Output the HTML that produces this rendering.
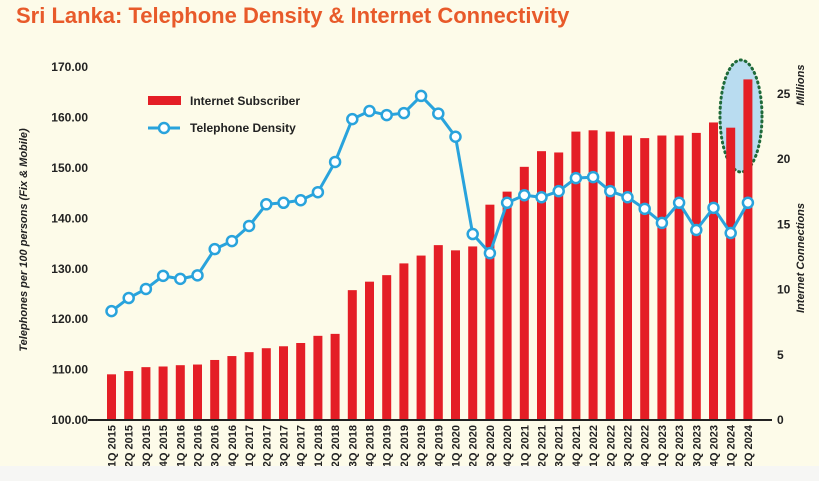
<!DOCTYPE html>
<html><head><meta charset="utf-8"><style>
html,body{margin:0;padding:0;background:#fdfbe9;}
svg{display:block;font-family:"Liberation Sans",sans-serif;}
</style></head><body>
<svg width="819" height="481" viewBox="0 0 819 481">
<rect x="0" y="0" width="819" height="481" fill="#fdfbe9"/>
<text x="16" y="23" font-size="22" font-weight="bold" fill="#e85a2a">Sri Lanka: Telephone Density &amp; Internet Connectivity</text>
<ellipse cx="741" cy="116" rx="21" ry="56" fill="#b9dcf0" stroke="#1f6b3a" stroke-width="3" stroke-dasharray="1 4" stroke-linecap="round"/>
<g id="bars"></g>
<g id="line"></g>
<g id="axes"></g>
<line x1="88" y1="420" x2="772" y2="420" stroke="#222" stroke-width="2"/>
<text transform="translate(27,240) rotate(-90)" text-anchor="middle" font-size="11" font-style="italic" font-weight="bold" fill="#222">Telephones per 100 persons (Fix &amp; Mobile)</text>
<text transform="translate(804,258) rotate(-90)" text-anchor="middle" font-size="11" font-style="italic" font-weight="bold" fill="#222">Internet Connections</text>
<text transform="translate(804,85) rotate(-90)" text-anchor="middle" font-size="11" font-style="italic" font-weight="bold" fill="#222">Millions</text>
<g>
<rect x="148" y="96" width="33" height="9" fill="#e41e26"/>
<text x="190" y="105" font-size="12" font-weight="bold" fill="#222">Internet Subscriber</text>
<line x1="148" y1="128" x2="180" y2="128" stroke="#29a3dc" stroke-width="3"/>
<circle cx="164" cy="128" r="5" fill="#fff" stroke="#29a3dc" stroke-width="2.5"/>
<text x="190" y="132" font-size="12" font-weight="bold" fill="#222">Telephone Density</text>
</g>
<rect x="0" y="466" width="819" height="15" fill="#f6f6f4"/>
</svg>
<script>
const categories=["1Q 2015","2Q 2015","3Q 2015","4Q 2015","1Q 2016","2Q 2016","3Q 2016","4Q 2016","1Q 2017","2Q 2017","3Q 2017","4Q 2017","1Q 2018","2Q 2018","3Q 2018","4Q 2018","1Q 2019","2Q 2019","3Q 2019","4Q 2019","1Q 2020","2Q 2020","3Q 2020","4Q 2020","1Q 2021","2Q 2021","3Q 2021","4Q 2021","1Q 2022","2Q 2022","3Q 2022","4Q 2022","1Q 2023","2Q 2023","3Q 2023","4Q 2023","1Q 2024","2Q 2024"];
const internetSubs=[3.5,3.75,4.05,4.1,4.2,4.25,4.6,4.9,5.2,5.5,5.65,5.9,6.45,6.6,9.95,10.6,11.1,12.0,12.6,13.4,13.0,13.3,16.5,17.5,19.4,20.6,20.5,22.1,22.2,22.1,21.8,21.6,21.8,21.8,22.0,22.8,22.4,26.1];
const teleDensity=[121.6,124.2,126.0,128.6,128.0,128.7,133.9,135.5,138.5,142.8,143.1,143.6,145.2,151.2,159.7,161.3,160.5,160.9,164.3,160.8,156.2,136.9,133.1,143.1,144.6,144.2,145.4,148.0,148.2,145.4,144.2,141.9,139.1,143.1,137.7,142.1,137.1,143.1];
const leftTicks=["100.00","110.00","120.00","130.00","140.00","150.00","160.00","170.00"];
const rightTicks=["0","5","10","15","20","25"];
const NS="http://www.w3.org/2000/svg";
const xPos=i=>111.5+i*17.2;
const yLeft=v=>420-(v-100)*5.04;
const yRight=v=>420-v*13.05;
function mk(tag,attrs,parent){const e=document.createElementNS(NS,tag);for(const k in attrs)e.setAttribute(k,attrs[k]);parent.appendChild(e);return e;}
const bars=document.getElementById('bars'),line=document.getElementById('line'),axes=document.getElementById('axes');
internetSubs.forEach((v,i)=>{
 const r=mk('rect',{x:xPos(i)-4.5,y:yRight(v),width:9,height:420-yRight(v),fill:'#e41e26'},bars);
 
 
});
const pts=teleDensity.map((v,i)=>xPos(i)+','+yLeft(v)).join(' ');
const pl=mk('polyline',{points:pts,fill:'none',stroke:'#29a3dc','stroke-width':3,'stroke-linejoin':'round'},line);


teleDensity.forEach((v,i)=>{
 const c=mk('circle',{cx:xPos(i),cy:yLeft(v),r:5,fill:'#fff',stroke:'#29a3dc','stroke-width':2.5},line);
 
 
});
leftTicks.forEach(t=>{
 const e=mk('text',{x:88,y:yLeft(parseFloat(t))+4,'text-anchor':'end','font-size':12,'font-weight':'bold',fill:'#222'},axes);
 e.textContent=t;
 
 
});
rightTicks.forEach(t=>{
 const e=mk('text',{x:777,y:yRight(parseFloat(t))+4,'font-size':12,'font-weight':'bold',fill:'#222'},axes);
 e.textContent=t;
 
 
});
categories.forEach((c,i)=>{
 const e=mk('text',{transform:'translate('+(xPos(i)+4)+',425) rotate(-90)','text-anchor':'end','font-size':11,'font-weight':'bold',fill:'#222'},axes);
 e.textContent=c;
 
 
});
</script>
</body></html>
